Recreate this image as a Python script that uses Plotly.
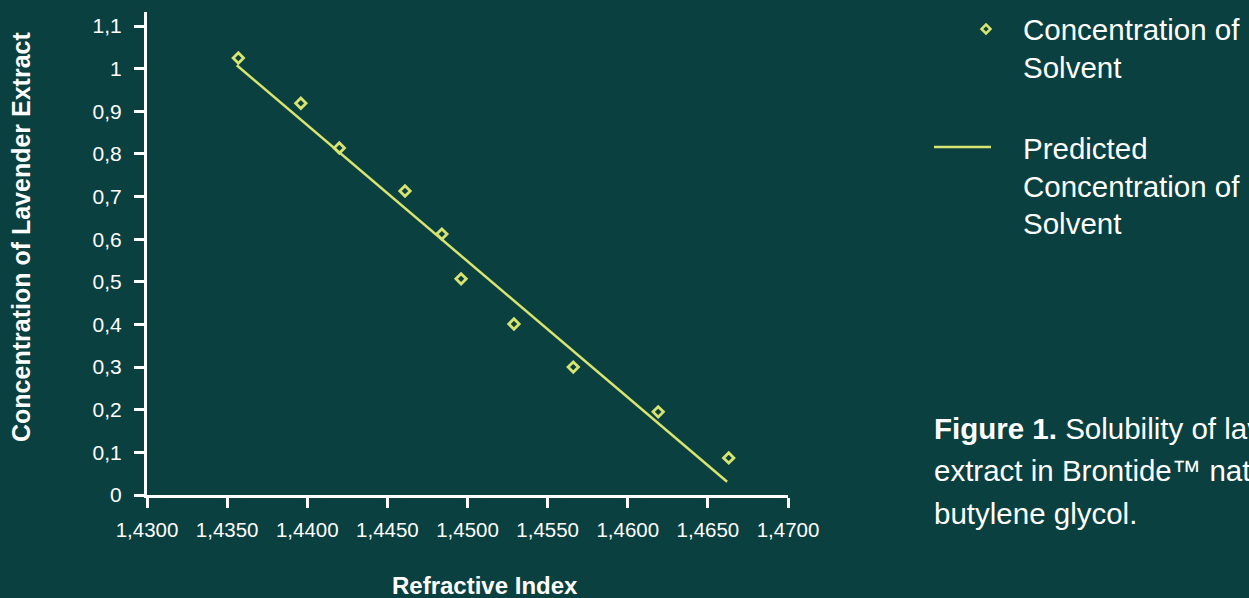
import plotly.graph_objects as go

# Measured samples: refractive index vs concentration of lavender extract
refractive_index = [1.4357, 1.4396, 1.4420, 1.4461, 1.4484, 1.4496, 1.4529, 1.4566, 1.4619, 1.4663]
concentration = [1.025, 0.919, 0.814, 0.713, 0.612, 0.507, 0.401, 0.300, 0.195, 0.087]

# End points of the predicted (fitted) concentration line
predicted_ri = [1.4356, 1.4662]
predicted_conc = [1.008, 0.031]

x_ticks = [1.43, 1.435, 1.44, 1.445, 1.45, 1.455, 1.46, 1.465, 1.47]
y_ticks = [0, 0.1, 0.2, 0.3, 0.4, 0.5, 0.6, 0.7, 0.8, 0.9, 1.0, 1.1]

legend_labels = [["Concentration of", "Solvent"],
                 ["Predicted", "Concentration of", "Solvent"]]
caption_lines = ["<b>Figure 1.</b> Solubility of lavender",
                 "extract in Brontide™ natural",
                 "butylene glycol."]

BG = "#0a4040"
MARK = "#d7e46f"
WHITE = "#ffffff"
FONT = "Liberation Sans, Arial, sans-serif"

W, H = 1249, 598
L, R, T, B = 147, 461, 12, 103
PW, PH = W - L - R, H - T - B


def px(x):
    return (x - L) / PW


def py(y):
    return (H - B - y) / PH


fig = go.Figure()
fig.add_trace(go.Scatter(
    x=predicted_ri, y=predicted_conc, mode="lines",
    line=dict(color=MARK, width=2.5), showlegend=False, hoverinfo="skip"))
fig.add_trace(go.Scatter(
    x=refractive_index, y=concentration, mode="markers",
    marker=dict(symbol="diamond-open", size=8, color=MARK, line=dict(width=2.8, color=MARK)),
    showlegend=False))

annotations = []
# legend
legend_rows = [[29, 67], [148, 186, 223]]
for labels, rows in zip(legend_labels, legend_rows):
    for text, yy in zip(labels, rows):
        annotations.append(dict(x=px(1021), y=py(yy), xref="paper", yref="paper",
                                text=text, showarrow=False, xanchor="left", yanchor="middle",
                                font=dict(family=FONT, size=29.5, color=WHITE)))
# caption
for text, yy in zip(caption_lines, [428, 470, 513]):
    annotations.append(dict(x=px(932), y=py(yy), xref="paper", yref="paper",
                            text=text, showarrow=False, xanchor="left", yanchor="middle",
                            font=dict(family=FONT, size=29.5, color=WHITE)))
# axis titles
annotations.append(dict(x=px(485), y=py(585), xref="paper", yref="paper",
                        text="<b>Refractive Index</b>", showarrow=False,
                        xanchor="center", yanchor="middle",
                        font=dict(family=FONT, size=24, color=WHITE)))
annotations.append(dict(x=px(21), y=py(237), xref="paper", yref="paper",
                        text="<b>Concentration of Lavender Extract</b>", showarrow=False,
                        textangle=-90, xanchor="center", yanchor="middle",
                        font=dict(family=FONT, size=25, color=WHITE)))

d = 4.5
cx, cy = 986, 29
shapes = [
    dict(type="line", xref="paper", yref="paper",
         x0=px(934), x1=px(991), y0=py(147), y1=py(147),
         line=dict(color=MARK, width=2.5)),
    dict(type="path", xref="paper", yref="paper",
         path=f"M{px(cx)},{py(cy - d)} L{px(cx + d)},{py(cy)} L{px(cx)},{py(cy + d)} L{px(cx - d)},{py(cy)} Z",
         line=dict(color=MARK, width=2.5)),
]

fig.update_layout(
    width=W, height=H,
    margin=dict(l=L, r=R, t=T, b=B, pad=0),
    paper_bgcolor=BG, plot_bgcolor=BG,
    separators=", ",
    font=dict(family=FONT, color=WHITE, size=21),
    showlegend=False,
    annotations=annotations,
    shapes=shapes,
    xaxis=dict(range=[1.43, 1.47], tickvals=x_ticks, tickformat=".4f",
               showgrid=False, zeroline=False, showline=True, linecolor=WHITE, linewidth=3,
               ticks="outside", ticklen=10, tickwidth=3, tickcolor=WHITE,
               ticklabelstandoff=4,
               tickfont=dict(size=20.5, color=WHITE)),
    yaxis=dict(range=[0, 1.133], tickvals=y_ticks, tickformat="",
               showgrid=False, zeroline=False, showline=True, linecolor=WHITE, linewidth=3,
               ticks="outside", ticklen=10, tickwidth=3, tickcolor=WHITE,
               ticklabelstandoff=8,
               tickfont=dict(size=21, color=WHITE)),
)

fig.write_html("out.html")
